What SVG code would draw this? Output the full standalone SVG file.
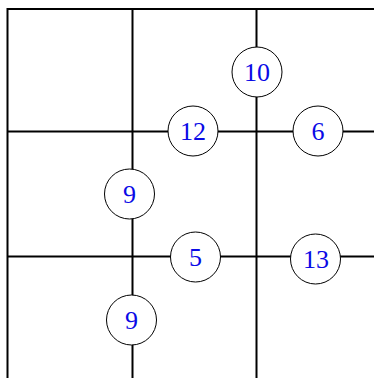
<svg xmlns="http://www.w3.org/2000/svg" width="374" height="378" viewBox="0 0 374 378">
<style>
.grid{stroke:#000;stroke-width:2;fill:none}
.node circle{fill:#fff;stroke:#000;stroke-width:1}
.node text{font-family:"Liberation Serif",serif;font-size:26px;fill:#0a0ae6;text-anchor:middle;dominant-baseline:central}
</style>
<rect width="374" height="378" fill="#fff"/>
<g id="connectors" class="grid">
<path d="M7.5,378 V9 H374"/>
<path d="M132.5,9 V378"/>
<path d="M256.5,9 V378"/>
<path d="M7.5,131.5 H374"/>
<path d="M7.5,256.5 H374"/>
</g>
<g id="n10" class="node"><circle cx="257" cy="72" r="25"/><text x="257" y="72">10</text></g>
<g id="n12" class="node"><circle cx="193" cy="131" r="25"/><text x="193" y="131">12</text></g>
<g id="n6" class="node"><circle cx="318" cy="131" r="25"/><text x="318" y="131">6</text></g>
<g id="n9a" class="node"><circle cx="129.5" cy="194" r="25"/><text x="129.5" y="194">9</text></g>
<g id="n5" class="node"><circle cx="195.5" cy="257" r="25"/><text x="195.5" y="257">5</text></g>
<g id="n13" class="node"><circle cx="315.5" cy="259" r="25"/><text x="316" y="259">13</text></g>
<g id="n9b" class="node"><circle cx="131.5" cy="320" r="25"/><text x="131.5" y="320">9</text></g>
</svg>
